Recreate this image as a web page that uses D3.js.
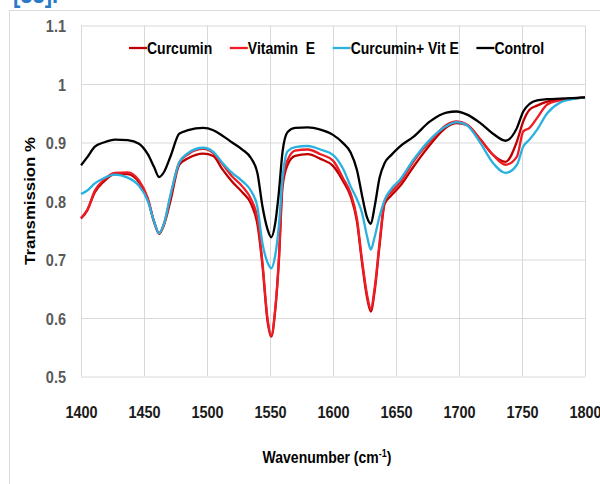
<!DOCTYPE html>
<html>
<head>
<meta charset="utf-8">
<script src="https://cdn.jsdelivr.net/npm/d3@7"></script>
<style>
  body { margin: 0; background: #fff; }
  text { font-family: "Liberation Sans", Arial, sans-serif; font-weight: bold; }
</style>
</head>
<body>
<div id="chart"></div>
<script>
////////////////////////////////////////////////////////////////////////
// Data (wavenumber in cm-1, transmission)

let wavenumber = [1400, 1405, 1411, 1418, 1427, 1437, 1446, 1453, 1458, 1462,
  1466, 1471, 1478, 1485, 1497, 1505, 1512, 1520, 1528, 1535,
  1540, 1544, 1548, 1551, 1554, 1557, 1560, 1564, 1570, 1580,
  1590, 1600, 1608, 1614, 1619, 1623, 1627, 1630, 1633, 1637,
  1641, 1646, 1653, 1664, 1677, 1690, 1698, 1706, 1717, 1727,
  1737, 1746, 1751, 1756, 1762, 1770, 1780, 1790, 1800];

let curcumin = [0.770, 0.784, 0.815, 0.833, 0.846, 0.846, 0.832, 0.803, 0.764, 0.744,
  0.760, 0.800, 0.862, 0.873, 0.881, 0.877, 0.855, 0.833, 0.815, 0.795,
  0.760, 0.690, 0.595, 0.568, 0.610, 0.695, 0.825, 0.862, 0.877, 0.880,
  0.872, 0.860, 0.834, 0.808, 0.765, 0.695, 0.635, 0.611, 0.645, 0.725,
  0.795, 0.809, 0.825, 0.859, 0.896, 0.926, 0.933, 0.930, 0.905, 0.879,
  0.867, 0.902, 0.936, 0.956, 0.963, 0.970, 0.973, 0.975, 0.977];

let vitaminE = [0.771, 0.785, 0.818, 0.836, 0.848, 0.849, 0.835, 0.805, 0.765, 0.745,
  0.762, 0.808, 0.866, 0.880, 0.889, 0.882, 0.864, 0.842, 0.825, 0.803,
  0.770, 0.695, 0.600, 0.570, 0.612, 0.700, 0.835, 0.870, 0.886, 0.888,
  0.880, 0.869, 0.839, 0.813, 0.770, 0.700, 0.640, 0.616, 0.650, 0.730,
  0.800, 0.815, 0.831, 0.868, 0.902, 0.930, 0.936, 0.931, 0.905, 0.879,
  0.862, 0.876, 0.919, 0.925, 0.942, 0.965, 0.972, 0.975, 0.977];

let curcuminVitE = [0.812, 0.818, 0.830, 0.839, 0.845, 0.840, 0.826, 0.800, 0.765, 0.745,
  0.762, 0.810, 0.866, 0.882, 0.891, 0.884, 0.866, 0.848, 0.834, 0.817,
  0.790, 0.728, 0.695, 0.685, 0.705, 0.757, 0.840, 0.885, 0.892, 0.894,
  0.888, 0.879, 0.855, 0.825, 0.803, 0.780, 0.740, 0.717, 0.738, 0.774,
  0.802, 0.820, 0.836, 0.871, 0.905, 0.928, 0.935, 0.930, 0.899, 0.865,
  0.848, 0.862, 0.893, 0.905, 0.922, 0.950, 0.968, 0.974, 0.977];

let control = [0.861, 0.875, 0.893, 0.900, 0.905, 0.904, 0.898, 0.880, 0.858, 0.841,
  0.850, 0.876, 0.915, 0.921, 0.925, 0.921, 0.912, 0.900, 0.888, 0.873,
  0.848, 0.791, 0.752, 0.738, 0.760, 0.814, 0.885, 0.918, 0.925, 0.926,
  0.922, 0.913, 0.899, 0.883, 0.853, 0.810, 0.772, 0.761, 0.790, 0.840,
  0.865, 0.878, 0.893, 0.910, 0.936, 0.951, 0.953, 0.948, 0.933, 0.915,
  0.903, 0.925, 0.953, 0.966, 0.972, 0.974, 0.975, 0.976, 0.977];

let seriesNames = ["Curcumin", "Vitamin  E", "Curcumin+ Vit E", "Control"];
let seriesValues = [curcumin, vitaminE, curcuminVitE, control];
let seriesColors = ["#c00000", "#ee1c24", "#29b1e0", "#000000"];

let xTicks = [1400, 1450, 1500, 1550, 1600, 1650, 1700, 1750, 1800];
let yTicks = [0.5, 0.6, 0.7, 0.8, 0.9, 1, 1.1];

////////////////////////////////////////////////////////////////////////
// SVG setup

let W = 600, H = 484;
let plot = { left: 81, right: 585, top: 25.5, bottom: 376.5 };
let stretch = 1.2;   // the source figure's lettering is a bit tall

let svg = d3.select("#chart").append("svg")
  .attr("width", W).attr("height", H);

// light frame around the figure + cut-off reference label above it
svg.append("rect")
  .attr("x", 9.5).attr("y", 10.5)
  .attr("width", 620).attr("height", 500)
  .style("fill", "none").style("stroke", "#dcdcdc");

svg.append("text")
  .attr("transform", `translate(13,3) scale(1,${stretch})`)
  .style("font-size", "22px").style("fill", "#2a7ac8")
  .text("[33].");

let x = d3.scaleLinear().domain([1400, 1800]).range([plot.left, plot.right]);
let y = d3.scaleLinear().domain([0.5, 1.1]).range([plot.bottom, plot.top]);

////////////////////////////////////////////////////////////////////////
// Gridlines and tick labels

let xAxis = d3.axisBottom(x).tickValues(xTicks)
  .tickSize(-(plot.bottom - plot.top)).tickFormat(d3.format("d"));
let yAxis = d3.axisLeft(y).tickValues(yTicks)
  .tickSize(-(plot.right - plot.left)).tickFormat(d => d);

let gx = svg.append("g")
  .attr("transform", `translate(0,${plot.bottom})`)
  .call(xAxis);
let gy = svg.append("g")
  .attr("transform", `translate(${plot.left},0)`)
  .call(yAxis);

[gx, gy].forEach(g => {
  g.select(".domain").remove();
  g.selectAll(".tick line").style("stroke", "#d9d9d9").style("stroke-width", 1);
  g.selectAll(".tick text")
    .style("font-size", "14.5px")
    .attr("x", 0).attr("y", 0).attr("dy", null);
});
gx.selectAll(".tick text")
  .style("fill", "#1a1a1a")
  .attr("transform", `translate(0,41.5) scale(1,${stretch})`);
gy.selectAll(".tick text")
  .style("fill", "#595959")
  .attr("transform", `translate(-15,6) scale(1,${stretch})`);

////////////////////////////////////////////////////////////////////////
// Spectra

let line = d3.line()
  .x((d, i) => x(wavenumber[i]))
  .y(d => y(d))
  .curve(d3.curveMonotoneX);

svg.append("g")
  .selectAll(".spectrum")
  .data(seriesValues)
  .enter()
  .append("path")
  .attr("class", "spectrum")
  .attr("d", line)
  .style("fill", "none")
  .style("stroke", (d, i) => seriesColors[i])
  .style("stroke-width", 2.3)
  .style("stroke-linejoin", "round");

////////////////////////////////////////////////////////////////////////
// Legend

let legend = svg.append("g").attr("transform", "translate(129,48)");
let lx = 0;
seriesNames.forEach((name, i) => {
  let item = legend.append("g").attr("transform", `translate(${lx},0)`);
  item.append("line")
    .attr("x1", 0).attr("x2", 18).attr("y1", 0).attr("y2", 0)
    .style("stroke", seriesColors[i]).style("stroke-width", 2.3);
  let t = item.append("text")
    .attr("transform", `translate(18,6) scale(1,${stretch})`)
    .style("font-size", "14px").style("fill", "#000")
    .style("white-space", "pre")
    .text(name);
  lx += 18 + t.node().getComputedTextLength() + 17.5;
});

////////////////////////////////////////////////////////////////////////
// Axis titles

svg.append("text")
  .attr("transform", `translate(35,201) rotate(-90) scale(${stretch},1)`)
  .attr("text-anchor", "middle")
  .style("font-size", "14px")
  .text("Transmission %");

let xt = svg.append("text")
  .attr("transform", `translate(327,463) scale(1,${stretch})`)
  .attr("text-anchor", "middle")
  .style("font-size", "14px");
xt.append("tspan").text("Wavenumber (cm");
xt.append("tspan").attr("dy", -5).style("font-size", "9px").text("-1");
xt.append("tspan").attr("dy", 5).text(")");
</script>
</body>
</html>
